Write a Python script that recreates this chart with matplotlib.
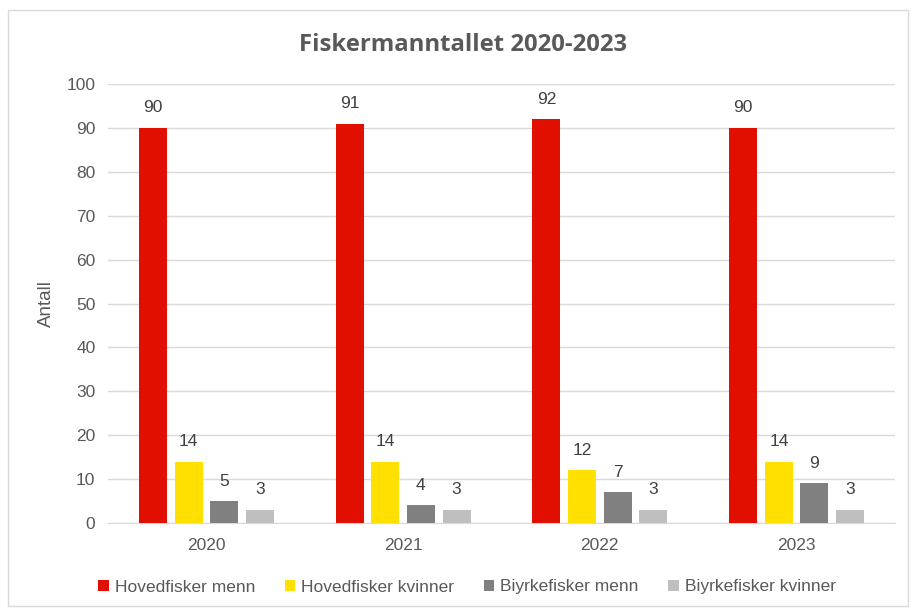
import matplotlib.pyplot as plt
import numpy as np
from matplotlib.patches import Rectangle

years = ['2020', '2021', '2022', '2023']
hoved_menn = [90, 91, 92, 90]
hoved_kvinner = [14, 14, 12, 14]
biyrke_menn = [5, 4, 7, 9]
biyrke_kvinner = [3, 3, 3, 3]

series = [
    ('Hovedfisker menn', hoved_menn, '#E00F00'),
    ('Hovedfisker kvinner', hoved_kvinner, '#FFE000'),
    ('Biyrkefisker menn', biyrke_menn, '#808080'),
    ('Biyrkefisker kvinner', biyrke_kvinner, '#BFBFBF'),
]

plt.rcParams['font.family'] = ['Liberation Sans', 'DejaVu Sans']
txt = '#595959'

fig = plt.figure(figsize=(9.12, 6.09), dpi=100)
ax = fig.add_axes([108/912, 1-523/609, (895-108)/912, (523-84)/609])

x = np.arange(len(years))
offsets = [-0.272, -0.09, 0.09, 0.272]
width = 0.143
for (name, vals, c), off in zip(series, offsets):
    bars = ax.bar(x + off, vals, width, color=c, label=name, zorder=3)
    for b, v in zip(bars, vals):
        ax.annotate(str(v), (b.get_x() + b.get_width()/2, v), xytext=(0, 9),
                    textcoords='offset points', ha='center', va='bottom',
                    fontsize=12.5, color='#404040')

ax.set_xlim(-0.5, 3.5)
ax.set_ylim(0, 100)
ax.set_yticks(range(0, 101, 10))
ax.set_xticks(x)
ax.set_xticklabels(years)
ax.grid(axis='y', color='#D9D9D9', linewidth=1, zorder=0)
for s in ['top', 'right', 'left']:
    ax.spines[s].set_visible(False)
ax.spines['bottom'].set_color('#D9D9D9')
ax.tick_params(axis='both', length=0, labelsize=12.5, colors=txt)
ax.tick_params(axis='x', pad=11)
ax.tick_params(axis='y', pad=9)
ax.set_ylabel('Antall', fontsize=13.5, color=txt, labelpad=8)

fig.text(463/912, 1-45/609, 'Fiskermanntallet 2020-2023', ha='center', va='center',
         fontsize=17.2, fontweight='bold', color=txt, family=['Open Sans', 'DejaVu Sans'])

fig.legend(loc='center', bbox_to_anchor=(467/912, 1-587/609), ncol=4, frameon=False,
           fontsize=12.5, handlelength=0.6, handleheight=0.6, handletextpad=0.35,
           columnspacing=1.7, labelcolor=txt)

fig.patches.append(Rectangle((8/912, 1-606/609), 900/912, 596/609, transform=fig.transFigure,
                             fill=False, edgecolor='#D9D9D9', linewidth=1))

fig.savefig('out.png', dpi=100)
